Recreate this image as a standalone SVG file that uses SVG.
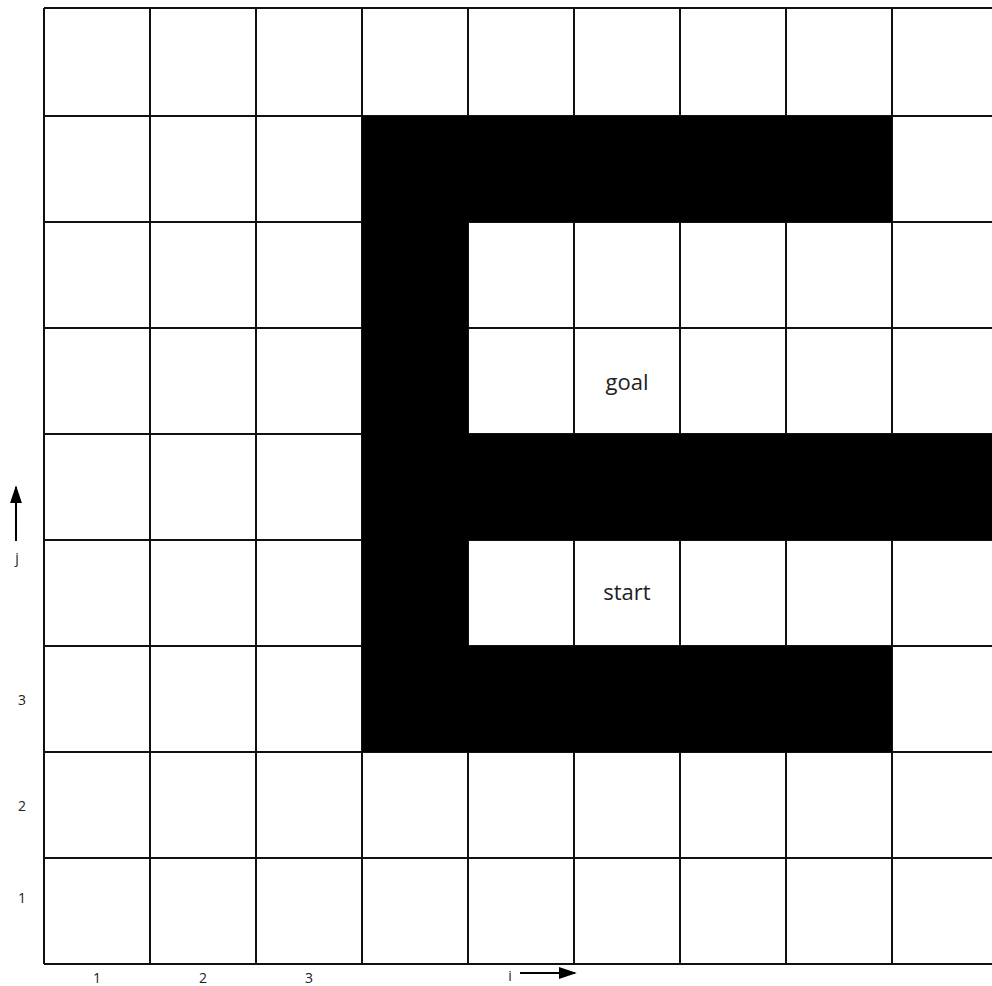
<svg xmlns="http://www.w3.org/2000/svg" width="992" height="986" viewBox="0 0 992 986">
<style>
.g{stroke:#111;stroke-width:2;fill:none}
.b{fill:#000}
.t{font-family:"Open Sans","Noto Sans",sans-serif;fill:#222;text-anchor:middle}
.big{font-size:22px}
.sm{font-size:14px}
</style>
<defs>
<marker id="ah" viewBox="0 0 10 10" refX="9" refY="5" markerWidth="10" markerHeight="10" markerUnits="userSpaceOnUse" orient="auto">
<path d="M0,0 L10,5 L0,10 z" fill="#000"/>
</marker>
<marker id="ahi" viewBox="0 0 10 10" refX="9" refY="5" markerWidth="18" markerHeight="12" markerUnits="userSpaceOnUse" orient="auto" preserveAspectRatio="none">
<path d="M0,0 L10,5 L0,10 z" fill="#000"/>
</marker>
</defs>
<rect width="992" height="986" fill="#fff"/>
<g id="grid" class="g">
<path d="M44,8H992M44,116H992M44,222H992M44,328H992M44,434H992M44,540H992M44,646H992M44,752H992M44,858H992M44,964H992"/>
<path d="M44,8V964M150,8V964M256,8V964M362,8V964M468,8V964M574,8V964M680,8V964M786,8V964M892,8V964"/>
</g>
<g id="obstacle" class="b">
<rect x="362" y="116" width="530" height="106"/>
<rect x="362" y="116" width="106" height="636"/>
<rect x="468" y="434" width="524" height="106"/>
<rect x="362" y="646" width="530" height="106"/>
</g>
<g id="goal"><text class="t big" x="627" y="390">goal</text></g>
<g id="start"><text class="t big" x="627" y="600">start</text></g>
<g id="axes" class="t sm">
<text x="97" y="983">1</text>
<text x="203" y="983">2</text>
<text x="309" y="983">3</text>
<text x="510" y="981">i</text>
<text x="22" y="705">3</text>
<text x="22" y="811">2</text>
<text x="22" y="903">1</text>
<text x="17" y="563">j</text>
</g>
<g id="connectors">
<line x1="520" y1="973" x2="575" y2="973" stroke="#000" stroke-width="2" marker-end="url(#ahi)"/>
<line x1="16" y1="541" x2="16" y2="487" stroke="#000" stroke-width="2" marker-end="url(#ahi)"/>
</g>
</svg>
